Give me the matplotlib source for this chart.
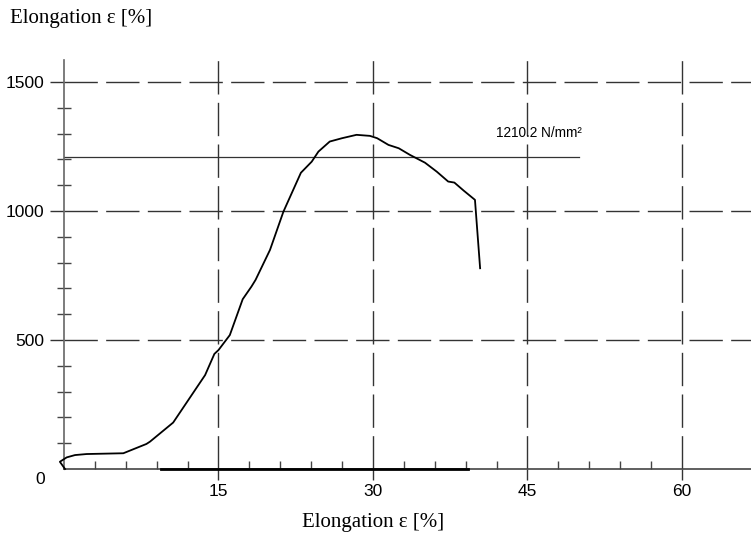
"""
Stress-elongation curve of a tensile test, redrawn with matplotlib.
"""
import matplotlib
matplotlib.use('Agg')
import matplotlib.pyplot as plt
from matplotlib.ticker import FixedLocator

# curve (elongation in %, stress in N/mm2)
elongation = [0.1, -0.4, 0.26, 1.07, 2.2, 5.76, 8.0, 8.35, 10.6, 13.7, 14.6, 15.0,
              16.1, 17.35, 18.2, 18.6, 20.0, 21.3, 23.0, 24.05, 24.7, 25.8, 27.0,
              28.4, 29.7, 30.4, 31.5, 32.5, 33.6, 35.05, 36.2, 37.3, 37.9, 38.8,
              39.9, 40.4]
stress = [0, 28, 45, 54, 58, 61, 97, 106, 180, 364, 446, 461,
          519, 658, 707, 733, 849, 997, 1148, 1191, 1230, 1269, 1282,
          1295, 1291, 1282, 1256, 1243, 1217, 1187, 1152, 1114, 1110, 1079,
          1043, 778]

# flat segment drawn on the zero line
base_x = [9.4, 39.2]
base_y = [0, 0]

# tensile strength marker
rm_value = 1210.2
rm_end = 50
rm_label = '1210.2 N/mm²'

x_major = [15, 30, 45, 60]
x_minor = [3, 6, 9, 12, 18, 21, 24, 27, 33, 36, 39, 42, 48, 51, 54, 57]
y_major = [500, 1000, 1500]
y_minor = [100, 200, 300, 400, 600, 700, 800, 900, 1100, 1200, 1300, 1400]
axis_title = 'Elongation ε [%]'

fig = plt.figure(figsize=(7.51, 5.46), dpi=100)
ax = fig.add_axes([64 / 751, 77 / 546, (751 - 64) / 751, (469 - 60) / 546])
ax.set_xlim(0, 66.7)
ax.set_ylim(0, 1585)

# dashed grid at the major positions
for xv in x_major:
    ax.axvline(xv, color='#333333', lw=1.0, dashes=(24, 6), zorder=1)
for yv in y_major:
    ax.axhline(yv, color='#333333', lw=1.0, dashes=(24, 6), zorder=1)

ax.plot([0, rm_end], [rm_value, rm_value], color='#333333', lw=0.9, zorder=2)
ax.text(41.9, 1302, rm_label, fontsize=9.8, family='Liberation Sans',
        va='center', ha='left')

ax.plot(elongation, stress, color='black', lw=1.3, clip_on=False, zorder=3)
ax.plot(base_x, base_y, color='black', lw=2.0, clip_on=False, zorder=3)

for side in ['top', 'right']:
    ax.spines[side].set_visible(False)
ax.spines['left'].set_color('#666666')
ax.spines['left'].set_linewidth(1.2)
ax.spines['bottom'].set_color('#444444')
ax.spines['bottom'].set_linewidth(1.2)

ax.set_xticks(x_major)
ax.set_xticklabels([str(v) for v in x_major], family='Liberation Sans', fontsize=12.5)
ax.xaxis.set_minor_locator(FixedLocator(x_minor))
ax.set_yticks(y_major)
ax.set_yticklabels([str(v) for v in y_major], family='Liberation Sans', fontsize=12.5)
ax.yaxis.set_minor_locator(FixedLocator(y_minor))

ax.tick_params(axis='x', which='major', direction='out', length=8, width=1.0,
               color='#333333', pad=3)
ax.tick_params(axis='x', which='minor', direction='in', length=6, width=1.0,
               color='#444444')
ax.tick_params(axis='y', which='major', direction='out', length=10, width=1.0,
               color='#333333', pad=4)
ax.tick_params(axis='y', which='minor', direction='inout', length=10, width=1.0,
               color='#444444')

ax.text(-1.85, -42, '0', family='Liberation Sans', fontsize=12.5,
        ha='right', va='center', clip_on=False)

fig.text(10 / 751, 1 - 18 / 546, axis_title, family='Liberation Serif',
         fontsize=15, ha='left', va='center')
fig.text(373 / 751, 1 - 523 / 546, axis_title, family='Liberation Serif',
         fontsize=15, ha='center', va='center')

plt.savefig('out.png', dpi=100)
plt.close()
